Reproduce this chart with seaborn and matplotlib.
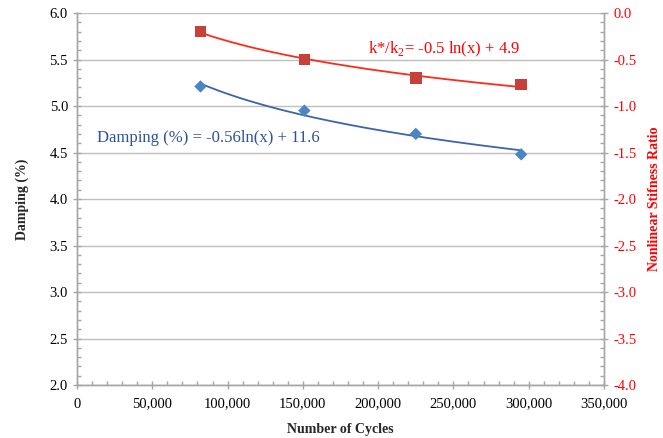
import numpy as np
import pandas as pd
import matplotlib
matplotlib.use("Agg")
import matplotlib.pyplot as plt
import seaborn as sns
from matplotlib.ticker import MultipleLocator, FuncFormatter

cycles = [82000, 151000, 225000, 295000]
damping = [5.21, 4.95, 4.70, 4.48]
stiffness = [-0.20, -0.50, -0.70, -0.77]
damping_label = "Damping (%) = -0.56ln(x) + 11.6"
stiff_label = "k*/k$_2$= -0.5 ln(x) + 4.9"

sns.set_style("white")
plt.rcParams['font.family'] = ['Liberation Serif', 'DejaVu Serif']
plt.rcParams['mathtext.fontset'] = 'custom'
plt.rcParams['mathtext.rm'] = 'Liberation Serif'

W, H = 663, 438
fig = plt.figure(figsize=(W/100, H/100), dpi=100)
ax = fig.add_axes([77/W, 1-385/H, (604-77)/W, (385-13)/H])
ax2 = ax.twinx()

df = pd.DataFrame({"cycles": cycles, "damping": damping, "stiffness": stiffness})

# log trendlines
xs = np.linspace(min(cycles), max(cycles), 200)
cd = np.polyfit(np.log(df.cycles), df.damping, 1)
cs = np.polyfit(np.log(df.cycles), df.stiffness, 1)
fit = pd.DataFrame({"x": xs, "d": cd[0]*np.log(xs)+cd[1], "s": cs[0]*np.log(xs)+cs[1]})

sns.lineplot(data=fit, x="x", y="d", ax=ax, color="#3A66A8", lw=1.3, zorder=3)
sns.scatterplot(data=df, x="cycles", y="damping", ax=ax, marker="D", s=40,
                color="#4A86C6", edgecolor="none", zorder=4)
sns.lineplot(data=fit, x="x", y="s", ax=ax2, color="#FF2A1A", lw=1.3, zorder=3)
sns.scatterplot(data=df, x="cycles", y="stiffness", ax=ax2, marker="s", s=70,
                color="#C8403A", edgecolor="none", zorder=4)

ax.set_xlim(0, 350000)
ax.set_ylim(2.0, 6.0)
ax2.set_ylim(-4.0, 0.0)

ax.xaxis.set_major_locator(MultipleLocator(50000))
ax.xaxis.set_minor_locator(MultipleLocator(10000))
ax.xaxis.set_major_formatter(FuncFormatter(lambda v, p: f"{int(v):,}"))
ax.yaxis.set_major_locator(MultipleLocator(0.5))
ax.yaxis.set_minor_locator(MultipleLocator(0.1))
ax.yaxis.set_major_formatter(FuncFormatter(lambda v, p: f"{v:.1f}"))
ax2.yaxis.set_major_locator(MultipleLocator(0.5))
ax2.yaxis.set_minor_locator(MultipleLocator(0.1))
ax2.yaxis.set_major_formatter(FuncFormatter(lambda v, p: f"{v:.1f}"))

ax.grid(axis="y", which="major", color="#BFBFBF", lw=1.0)
ax.set_axisbelow(True)
ax2.grid(False)

spine_c = "#A6A6A6"
for a in (ax, ax2):
    a.spines["top"].set_visible(False)
    for s in ("left", "right", "bottom"):
        a.spines[s].set_color(spine_c)
        a.spines[s].set_linewidth(1.0)

ax.tick_params(axis="both", which="major", direction="inout", length=6, color=spine_c,
               labelsize=10.5, labelcolor="black", width=1)
ax.tick_params(axis="both", which="minor", direction="in", length=3, color=spine_c, width=1)
ax.tick_params(axis="x", which="both", bottom=True)
ax.tick_params(axis="y", which="both", left=True)
ax.tick_params(axis="x", pad=6)
ax2.tick_params(axis="y", which="major", direction="inout", length=6, color=spine_c,
                labelsize=10.5, labelcolor="#FF0000", width=1, right=True)
ax2.tick_params(axis="y", which="minor", direction="in", length=3, color=spine_c, width=1, right=True)

ax.set_xlabel("Number of Cycles", fontsize=10, fontweight="bold", va="center")
ax.xaxis.set_label_coords(340/W, 1-429/H, transform=fig.transFigure)
ax.set_ylabel("Damping (%)", fontsize=10, fontweight="bold", va="center")
ax.yaxis.set_label_coords(22/W, 1-199/H, transform=fig.transFigure)
ax2.set_ylabel("Nonlinear Stifness Ratio", fontsize=10, fontweight="bold",
               color="#FF0000", va="center")
ax2.yaxis.set_label_coords(655/W, 1-199/H, transform=fig.transFigure)

fig.text(208/W, 1-138/H, damping_label, fontsize=12, color="#2E5394",
         ha="center", va="center")
fig.text(444/W, 1-49/H, stiff_label, fontsize=12, color="#FF0000",
         ha="center", va="center")

fig.savefig("out.png", dpi=100)
